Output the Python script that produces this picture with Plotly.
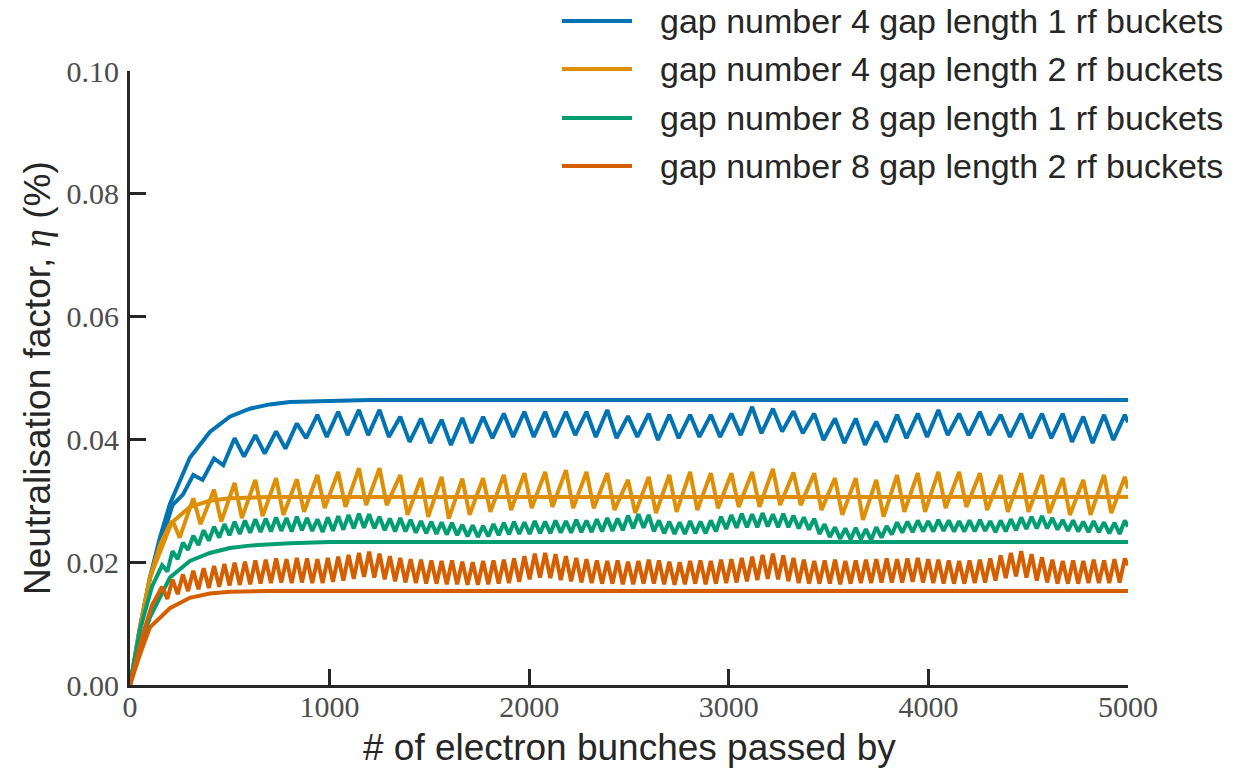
import plotly.graph_objects as go

# ---------------- data ----------------
labels = [
    "gap number 4 gap length 1 rf buckets",
    "gap number 4 gap length 2 rf buckets",
    "gap number 8 gap length 1 rf buckets",
    "gap number 8 gap length 2 rf buckets",
]
colors = ["#0173B2", "#DE8F05", "#029E73", "#D55E00"]

x_ticks = [0, 1000, 2000, 3000, 4000, 5000]
y_ticks = [0.00, 0.02, 0.04, 0.06, 0.08, 0.10]

# smooth (saturating) curves
blue_smooth_x = [0, 50, 100, 150, 200, 300, 400, 500, 600, 700, 800, 1000, 1200, 1500, 5000]
blue_smooth_y = [0, 0.0095, 0.0175, 0.0240, 0.0295, 0.0370, 0.0412, 0.0437, 0.0450, 0.0457, 0.0461, 0.0463, 0.0464, 0.0464, 0.0464]
orange_smooth_x = [0, 50, 100, 150, 200, 300, 400, 500, 700, 1000, 5000]
orange_smooth_y = [0, 0.0095, 0.0175, 0.0228, 0.0262, 0.0290, 0.0300, 0.0304, 0.0306, 0.0306, 0.0306]
green_smooth_x = [0, 50, 100, 200, 300, 400, 500, 600, 800, 1000, 5000]
green_smooth_y = [0, 0.0060, 0.0110, 0.0175, 0.0202, 0.0215, 0.0223, 0.0227, 0.0231, 0.0233, 0.0233]
red_smooth_x = [0, 50, 100, 200, 300, 400, 500, 700, 5000]
red_smooth_y = [0, 0.0050, 0.0094, 0.0125, 0.0142, 0.0149, 0.0152, 0.0153, 0.0153]

# oscillating curves: gap number 4 (peak positions, bunches)
g4_peak_x = [317, 421, 524, 628, 732, 836, 939, 1043, 1147, 1250,
             1354, 1458, 1561, 1665, 1769, 1873, 1976, 2080, 2184, 2287,
             2391, 2495, 2599, 2702, 2806, 2910, 3013, 3117, 3221, 3324,
             3428, 3532, 3636, 3739, 3843, 3947, 4050, 4154, 4258, 4362,
             4465, 4569, 4673, 4776, 4880, 4984]

blue_start_x = [0, 100, 213, 265]
blue_start_y = [0, 0.0175, 0.0293, 0.0310]
blue_peaks = [0.0342, 0.0369, 0.0402, 0.0407, 0.0413, 0.0426, 0.0440, 0.0445, 0.0448, 0.0448,
              0.0437, 0.0434, 0.0432, 0.0435, 0.0437, 0.0442, 0.0445, 0.0445, 0.0445, 0.0445,
              0.0448, 0.0438, 0.0442, 0.0440, 0.0440, 0.0440, 0.0442, 0.0453, 0.0450, 0.0446,
              0.0442, 0.0434, 0.0434, 0.0429, 0.0440, 0.0442, 0.0448, 0.0442, 0.0445, 0.0440,
              0.0442, 0.0442, 0.0442, 0.0437, 0.0440, 0.0440]
blue_troughs = [0.0334, 0.0358, 0.0372, 0.0377, 0.0385, 0.0402, 0.0404, 0.0407, 0.0407, 0.0404,
                0.0396, 0.0394, 0.0391, 0.0394, 0.0402, 0.0404, 0.0404, 0.0404, 0.0407, 0.0404,
                0.0402, 0.0404, 0.0399, 0.0402, 0.0404, 0.0404, 0.0407, 0.0410, 0.0413, 0.0410,
                0.0399, 0.0394, 0.0391, 0.0396, 0.0402, 0.0404, 0.0407, 0.0407, 0.0407, 0.0404,
                0.0402, 0.0402, 0.0396, 0.0394, 0.0399]
blue_end = [5000, 0.0428]

orange_start_x = [0, 100, 213, 249]
orange_start_y = [0, 0.0175, 0.0268, 0.0240]
orange_peaks = [0.0304, 0.0318, 0.0329, 0.0334, 0.0337, 0.0335, 0.0342, 0.0347, 0.0353, 0.0353,
                0.0342, 0.0337, 0.0339, 0.0336, 0.0337, 0.0342, 0.0345, 0.0347, 0.0350, 0.0347,
                0.0345, 0.0334, 0.0339, 0.0342, 0.0347, 0.0345, 0.0345, 0.0347, 0.0352, 0.0346,
                0.0345, 0.0337, 0.0337, 0.0334, 0.0342, 0.0345, 0.0347, 0.0347, 0.0345, 0.0342,
                0.0345, 0.0342, 0.0337, 0.0334, 0.0342, 0.0339]
orange_troughs = [0.0262, 0.0266, 0.0272, 0.0275, 0.0277, 0.0282, 0.0288, 0.0290, 0.0293, 0.0293,
                  0.0277, 0.0274, 0.0271, 0.0277, 0.0282, 0.0285, 0.0288, 0.0290, 0.0288, 0.0288,
                  0.0285, 0.0280, 0.0280, 0.0282, 0.0285, 0.0288, 0.0290, 0.0290, 0.0293, 0.0293,
                  0.0285, 0.0277, 0.0269, 0.0274, 0.0282, 0.0282, 0.0288, 0.0290, 0.0285, 0.0282,
                  0.0282, 0.0280, 0.0277, 0.0277, 0.0280]
orange_end = [5000, 0.0320]

# oscillating curves: gap number 8 (peak positions, bunches)
g8_peak_x = [161, 213, 265, 317, 369, 421, 473, 524, 576, 628,
             680, 732, 784, 836, 887, 939, 991, 1043, 1095, 1147,
             1198, 1250, 1302, 1354, 1406, 1458, 1510, 1561, 1613, 1665,
             1717, 1769, 1821, 1873, 1924, 1976, 2028, 2080, 2132, 2184,
             2236, 2287, 2339, 2391, 2443, 2495, 2547, 2599, 2650, 2702,
             2754, 2806, 2858, 2910, 2961, 3013, 3065, 3117, 3169, 3221,
             3273, 3324, 3376, 3428, 3480, 3532, 3584, 3636, 3687, 3739,
             3791, 3843, 3895, 3947, 3999, 4050, 4102, 4154, 4206, 4258,
             4310, 4362, 4413, 4465, 4517, 4569, 4621, 4673, 4725, 4776,
             4828, 4880, 4932, 4984]

green_start_x = [0, 50, 110]
green_start_y = [0, 0.0090, 0.0160]
green_peaks = [0.0195, 0.0218, 0.0232, 0.0243, 0.0252, 0.0258, 0.0262, 0.0266, 0.0268, 0.0270,
               0.0271, 0.0273, 0.0272, 0.0274, 0.0272, 0.0270, 0.0273, 0.0275, 0.0277, 0.0279,
               0.0278, 0.0274, 0.0271, 0.0272, 0.0269, 0.0267, 0.0266, 0.0265, 0.0264, 0.0261,
               0.0260, 0.0259, 0.0262, 0.0264, 0.0266, 0.0265, 0.0267, 0.0266, 0.0268, 0.0267,
               0.0269, 0.0268, 0.0270, 0.0272, 0.0271, 0.0276, 0.0278, 0.0277, 0.0268, 0.0266,
               0.0265, 0.0267, 0.0266, 0.0268, 0.0274, 0.0277, 0.0279, 0.0278, 0.0280, 0.0278,
               0.0279, 0.0276, 0.0273, 0.0271, 0.0262, 0.0257, 0.0255, 0.0256, 0.0254, 0.0257,
               0.0259, 0.0265, 0.0266, 0.0268, 0.0267, 0.0269, 0.0268, 0.0267, 0.0268, 0.0269,
               0.0267, 0.0268, 0.0270, 0.0273, 0.0274, 0.0275, 0.0272, 0.0269, 0.0268, 0.0266,
               0.0267, 0.0265, 0.0264, 0.0268]
green_troughs = [0.0185, 0.0205, 0.0220, 0.0228, 0.0235, 0.0240, 0.0244, 0.0246, 0.0248, 0.0249,
                 0.0250, 0.0251, 0.0250, 0.0252, 0.0251, 0.0249, 0.0251, 0.0253, 0.0255, 0.0256,
                 0.0255, 0.0252, 0.0250, 0.0250, 0.0248, 0.0247, 0.0246, 0.0245, 0.0244, 0.0242,
                 0.0241, 0.0242, 0.0244, 0.0245, 0.0246, 0.0246, 0.0247, 0.0247, 0.0248, 0.0248,
                 0.0249, 0.0249, 0.0250, 0.0251, 0.0252, 0.0255, 0.0256, 0.0250, 0.0247, 0.0246,
                 0.0246, 0.0247, 0.0247, 0.0250, 0.0254, 0.0256, 0.0257, 0.0257, 0.0258, 0.0257,
                 0.0257, 0.0255, 0.0253, 0.0246, 0.0241, 0.0238, 0.0237, 0.0237, 0.0236, 0.0240,
                 0.0245, 0.0248, 0.0249, 0.0250, 0.0250, 0.0251, 0.0250, 0.0250, 0.0250, 0.0251,
                 0.0249, 0.0250, 0.0252, 0.0254, 0.0255, 0.0255, 0.0253, 0.0251, 0.0250, 0.0249,
                 0.0249, 0.0247, 0.0246]
green_end = [5000, 0.0258]

red_start_x = [0, 67, 110]
red_start_y = [0, 0.0085, 0.0130]
red_peaks = [0.0160, 0.0172, 0.0180, 0.0186, 0.0190, 0.0194, 0.0197, 0.0199, 0.0201, 0.0203,
             0.0204, 0.0206, 0.0205, 0.0207, 0.0206, 0.0205, 0.0207, 0.0209, 0.0212, 0.0215,
             0.0217, 0.0214, 0.0210, 0.0207, 0.0205, 0.0204, 0.0203, 0.0202, 0.0203, 0.0201,
             0.0200, 0.0202, 0.0203, 0.0204, 0.0206, 0.0210, 0.0214, 0.0215, 0.0213, 0.0210,
             0.0207, 0.0205, 0.0203, 0.0202, 0.0203, 0.0201, 0.0202, 0.0204, 0.0203, 0.0201,
             0.0200, 0.0202, 0.0203, 0.0202, 0.0204, 0.0205, 0.0207, 0.0209, 0.0212, 0.0214,
             0.0211, 0.0207, 0.0204, 0.0202, 0.0203, 0.0204, 0.0202, 0.0203, 0.0204, 0.0205,
             0.0206, 0.0205, 0.0206, 0.0207, 0.0205, 0.0204, 0.0203, 0.0202, 0.0203, 0.0204,
             0.0206, 0.0211, 0.0215, 0.0218, 0.0213, 0.0208, 0.0204, 0.0202, 0.0203, 0.0202,
             0.0204, 0.0203, 0.0205, 0.0206]
red_troughs = [0.0140, 0.0148, 0.0153, 0.0156, 0.0158, 0.0160, 0.0162, 0.0163, 0.0164, 0.0165,
               0.0166, 0.0167, 0.0166, 0.0167, 0.0166, 0.0166, 0.0168, 0.0170, 0.0173, 0.0176,
               0.0175, 0.0172, 0.0169, 0.0167, 0.0166, 0.0165, 0.0165, 0.0164, 0.0164, 0.0163,
               0.0163, 0.0164, 0.0165, 0.0166, 0.0168, 0.0172, 0.0175, 0.0174, 0.0171, 0.0169,
               0.0167, 0.0166, 0.0165, 0.0165, 0.0164, 0.0164, 0.0165, 0.0165, 0.0164, 0.0163,
               0.0164, 0.0165, 0.0164, 0.0165, 0.0166, 0.0167, 0.0169, 0.0171, 0.0173, 0.0172,
               0.0169, 0.0166, 0.0165, 0.0165, 0.0165, 0.0164, 0.0165, 0.0166, 0.0166, 0.0167,
               0.0167, 0.0167, 0.0168, 0.0167, 0.0166, 0.0165, 0.0165, 0.0165, 0.0166, 0.0167,
               0.0170, 0.0174, 0.0177, 0.0175, 0.0170, 0.0167, 0.0165, 0.0165, 0.0165, 0.0166,
               0.0166, 0.0166, 0.0167]
red_end = [5000, 0.0195]

# fraction of a cycle at which the trough sits after each peak
trough_phase = {"blue": 0.45, "orange": 0.35, "green": 0.5, "red": 0.5}


def build(start_x, start_y, peak_x, peaks, troughs, phase, end):
    xs, ys = list(start_x), list(start_y)
    n = min(len(peak_x), len(peaks))
    for i in range(n):
        xs.append(peak_x[i]); ys.append(peaks[i])
        if i + 1 < n and i < len(troughs):
            xs.append(peak_x[i] + phase * (peak_x[i + 1] - peak_x[i]))
            ys.append(troughs[i])
    xs.append(end[0]); ys.append(end[1])
    return xs, ys


osc = [
    build(blue_start_x, blue_start_y, g4_peak_x, blue_peaks, blue_troughs, trough_phase["blue"], blue_end),
    build(orange_start_x, orange_start_y, g4_peak_x, orange_peaks, orange_troughs, trough_phase["orange"], orange_end),
    build(green_start_x, green_start_y, g8_peak_x, green_peaks, green_troughs, trough_phase["green"], green_end),
    build(red_start_x, red_start_y, g8_peak_x, red_peaks, red_troughs, trough_phase["red"], red_end),
]
smooth = [
    (blue_smooth_x, blue_smooth_y),
    (orange_smooth_x, orange_smooth_y),
    (green_smooth_x, green_smooth_y),
    (red_smooth_x, red_smooth_y),
]

# ---------------- figure ----------------
fig = go.Figure()
for i in range(4):
    sx, sy = smooth[i]
    fig.add_trace(go.Scatter(x=sx, y=sy, mode="lines", name=labels[i],
                             line=dict(color=colors[i], width=4),
                             legendgroup=labels[i], showlegend=False))
    ox, oy = osc[i]
    fig.add_trace(go.Scatter(x=ox, y=oy, mode="lines", name=labels[i],
                             line=dict(color=colors[i], width=4, shape="linear"),
                             legendgroup=labels[i], showlegend=False))

W, H = 1242, 768
L, R, T, B = 130, 114, 71, 83
pw, ph = W - L - R, H - T - B

def px_x(p):
    return (p - L) / pw

def px_y(p):
    return (H - B - p) / ph

axis_color = "#262626"
tick_font = dict(family="Liberation Serif, DejaVu Serif, serif", size=30, color="#4d4d4d")
sans = "Liberation Sans, Arial, Helvetica, sans-serif"

fig.update_layout(
    width=W, height=H, autosize=False,
    margin=dict(l=L, r=R, t=T, b=B),
    paper_bgcolor="white", plot_bgcolor="white",
    showlegend=False,
    xaxis=dict(range=[0, 5000], tickvals=x_ticks, ticktext=[str(v) for v in x_ticks],
               showgrid=False, zeroline=False, showline=True, linecolor=axis_color, linewidth=3,
               ticks="inside", ticklen=16, tickwidth=3, tickcolor=axis_color,
               tickfont=tick_font, ticklabelstandoff=-7),
    yaxis=dict(range=[0, 0.10], tickvals=y_ticks, ticktext=[f"{v:.2f}" for v in y_ticks],
               showgrid=False, zeroline=False, showline=True, linecolor=axis_color, linewidth=3,
               ticks="inside", ticklen=16, tickwidth=3, tickcolor=axis_color,
               tickfont=tick_font, ticklabelstandoff=2),
)

annotations = [
    dict(text="# of electron bunches passed by", xref="paper", yref="paper",
         x=0.5, y=px_y(747), xanchor="center", yanchor="middle", showarrow=False,
         font=dict(family=sans, size=37, color=axis_color)),
    dict(text="Neutralisation factor, <span style=\"font-family:Liberation Serif\"><i>η</i></span> (%)",
         xref="paper", yref="paper",
         x=px_x(37), y=0.5, xanchor="center", yanchor="middle", textangle=-90, showarrow=False,
         font=dict(family=sans, size=37, color=axis_color)),
]
shapes = []
legend_rows = [21, 69, 118, 166]
for i in range(4):
    yy = px_y(legend_rows[i])
    shapes.append(dict(type="line", xref="paper", yref="paper",
                       x0=px_x(562), x1=px_x(632), y0=yy, y1=yy,
                       line=dict(color=colors[i], width=4)))
    annotations.append(dict(text=labels[i], xref="paper", yref="paper",
                            x=px_x(658), y=yy, xanchor="left", yanchor="middle", showarrow=False,
                            font=dict(family=sans, size=34, color=axis_color)))
fig.update_layout(annotations=annotations, shapes=shapes)

fig.write_html("out.html")
